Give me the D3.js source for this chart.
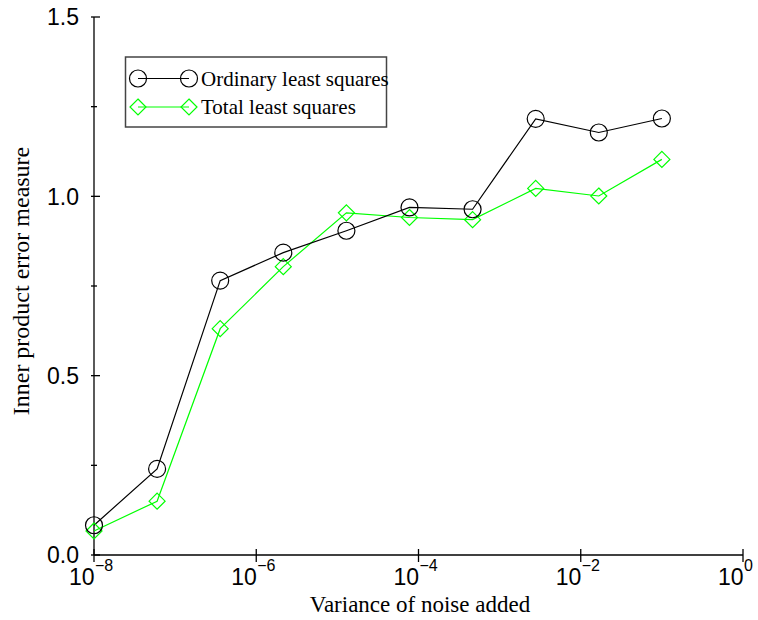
<!DOCTYPE html>
<html>
<head>
<meta charset="utf-8">
<script src="https://cdn.jsdelivr.net/npm/d3@7/dist/d3.min.js"></script>
<style>
  html, body { margin: 0; padding: 0; background: #fff; }
  svg { display: block; }
</style>
</head>
<body>
<svg id="chart" width="758" height="620"></svg>
<script>
// ---- data ----
const noiseVariance = [1e-8, 5.995e-8, 3.594e-7, 2.154e-6, 1.292e-5, 7.743e-5, 4.642e-4, 2.783e-3, 1.668e-2, 1e-1];
const olsError = [0.083, 0.240, 0.765, 0.843, 0.904, 0.969, 0.964, 1.216, 1.178, 1.217];
const tlsError = [0.067, 0.150, 0.631, 0.804, 0.954, 0.941, 0.935, 1.022, 1.001, 1.103];
const seriesNames = ["Ordinary least squares", "Total least squares"];
const xTickExponents = [-8, -6, -4, -2, 0];
const yMajorTicks = [0, 0.5, 1.0, 1.5];
const yMinorTicks = [0.25, 0.75, 1.25];
const xLabel = "Variance of noise added";
const yLabel = "Inner product error measure";

// ---- layout ----
const svg = d3.select("#chart");
const x = d3.scaleLog().domain([1e-8, 1]).range([94, 743]);
const y = d3.scaleLinear().domain([0, 1.5]).range([555, 17]);
const sans = "'Liberation Sans', Arial, sans-serif";
const serif = "'Liberation Serif', 'Times New Roman', serif";
const green = "#00ff00";

// axes lines
const axisG = svg.append("g").attr("stroke", "#000").attr("stroke-width", 1.3);
axisG.append("line").attr("x1", x(1e-8)).attr("x2", x(1e-8)).attr("y1", y(1.5)).attr("y2", y(0));
axisG.append("line").attr("x1", x(1e-8)).attr("x2", x(1)).attr("y1", y(0)).attr("y2", y(0));

// y ticks
yMajorTicks.forEach(v => {
  axisG.append("line").attr("x1", x(1e-8) - 3).attr("x2", x(1e-8) + 6).attr("y1", y(v)).attr("y2", y(v));
  svg.append("text").attr("x", 79).attr("y", y(v)).attr("dy", "0.36em")
    .attr("text-anchor", "end").attr("font-family", sans).attr("font-size", 23)
    .text(d3.format(".1f")(v));
});
yMinorTicks.forEach(v => {
  axisG.append("line").attr("x1", x(1e-8) - 3).attr("x2", x(1e-8) + 3).attr("y1", y(v)).attr("y2", y(v));
});

// x ticks
xTickExponents.forEach(e => {
  const xv = x(Math.pow(10, e));
  axisG.append("line").attr("x1", xv).attr("x2", xv).attr("y1", y(0) - 6).attr("y2", y(0) + 7);
  svg.append("text").attr("x", xv + 0.5).attr("y", 585)
    .attr("text-anchor", "end").attr("font-family", sans).attr("font-size", 23).text("10");
  svg.append("text").attr("x", xv + 1).attr("y", 571)
    .attr("text-anchor", "start").attr("font-family", sans).attr("font-size", 16)
    .text(e < 0 ? "\u2212" + Math.abs(e) : String(e));
});

// axis labels
svg.append("text").attr("x", 420).attr("y", 612).attr("text-anchor", "middle")
  .attr("font-family", serif).attr("font-size", 23).text(xLabel);
svg.append("text").attr("transform", "translate(29,281) rotate(-90)").attr("text-anchor", "middle")
  .attr("font-family", serif).attr("font-size", 24).text(yLabel);

// lines
const line = d3.line().x(d => x(d[0])).y(d => y(d[1]));
const olsData = noiseVariance.map((v, i) => [v, olsError[i]]);
const tlsData = noiseVariance.map((v, i) => [v, tlsError[i]]);

svg.append("path").datum(tlsData).attr("d", line).attr("fill", "none").attr("stroke", green).attr("stroke-width", 1.2);
svg.append("path").datum(olsData).attr("d", line).attr("fill", "none").attr("stroke", "#000").attr("stroke-width", 1.2);

const diamond = (cx, cy, r) => `M${cx},${cy - r}L${cx + r},${cy}L${cx},${cy + r}L${cx - r},${cy}Z`;

svg.append("g").selectAll("path").data(tlsData).join("path")
  .attr("d", d => diamond(x(d[0]), y(d[1]), 8))
  .attr("fill", "none").attr("stroke", green).attr("stroke-width", 1.2);
svg.append("g").selectAll("circle").data(olsData).join("circle")
  .attr("cx", d => x(d[0])).attr("cy", d => y(d[1])).attr("r", 8.5)
  .attr("fill", "none").attr("stroke", "#000").attr("stroke-width", 1.2);

// legend
const lg = svg.append("g");
lg.append("rect").attr("x", 125.5).attr("y", 57).attr("width", 261).attr("height", 70)
  .attr("fill", "#fff").attr("stroke", "#444").attr("stroke-width", 1.5);
const legendRows = [
  { name: seriesNames[0], color: "#000", marker: "circle", cy: 78.5 },
  { name: seriesNames[1], color: green, marker: "diamond", cy: 107 }
];
legendRows.forEach(r => {
  lg.append("line").attr("x1", 138).attr("x2", 189).attr("y1", r.cy).attr("y2", r.cy)
    .attr("stroke", r.color).attr("stroke-width", 1.2);
  [138, 189].forEach(cx => {
    if (r.marker === "circle") {
      lg.append("circle").attr("cx", cx).attr("cy", r.cy).attr("r", 8.5)
        .attr("fill", "none").attr("stroke", r.color).attr("stroke-width", 1.2);
    } else {
      lg.append("path").attr("d", diamond(cx, r.cy, 8))
        .attr("fill", "none").attr("stroke", r.color).attr("stroke-width", 1.2);
    }
  });
  lg.append("text").attr("x", 201).attr("y", r.cy + 7).attr("font-family", serif)
    .attr("font-size", 21).text(r.name);
});
</script>
</body>
</html>
